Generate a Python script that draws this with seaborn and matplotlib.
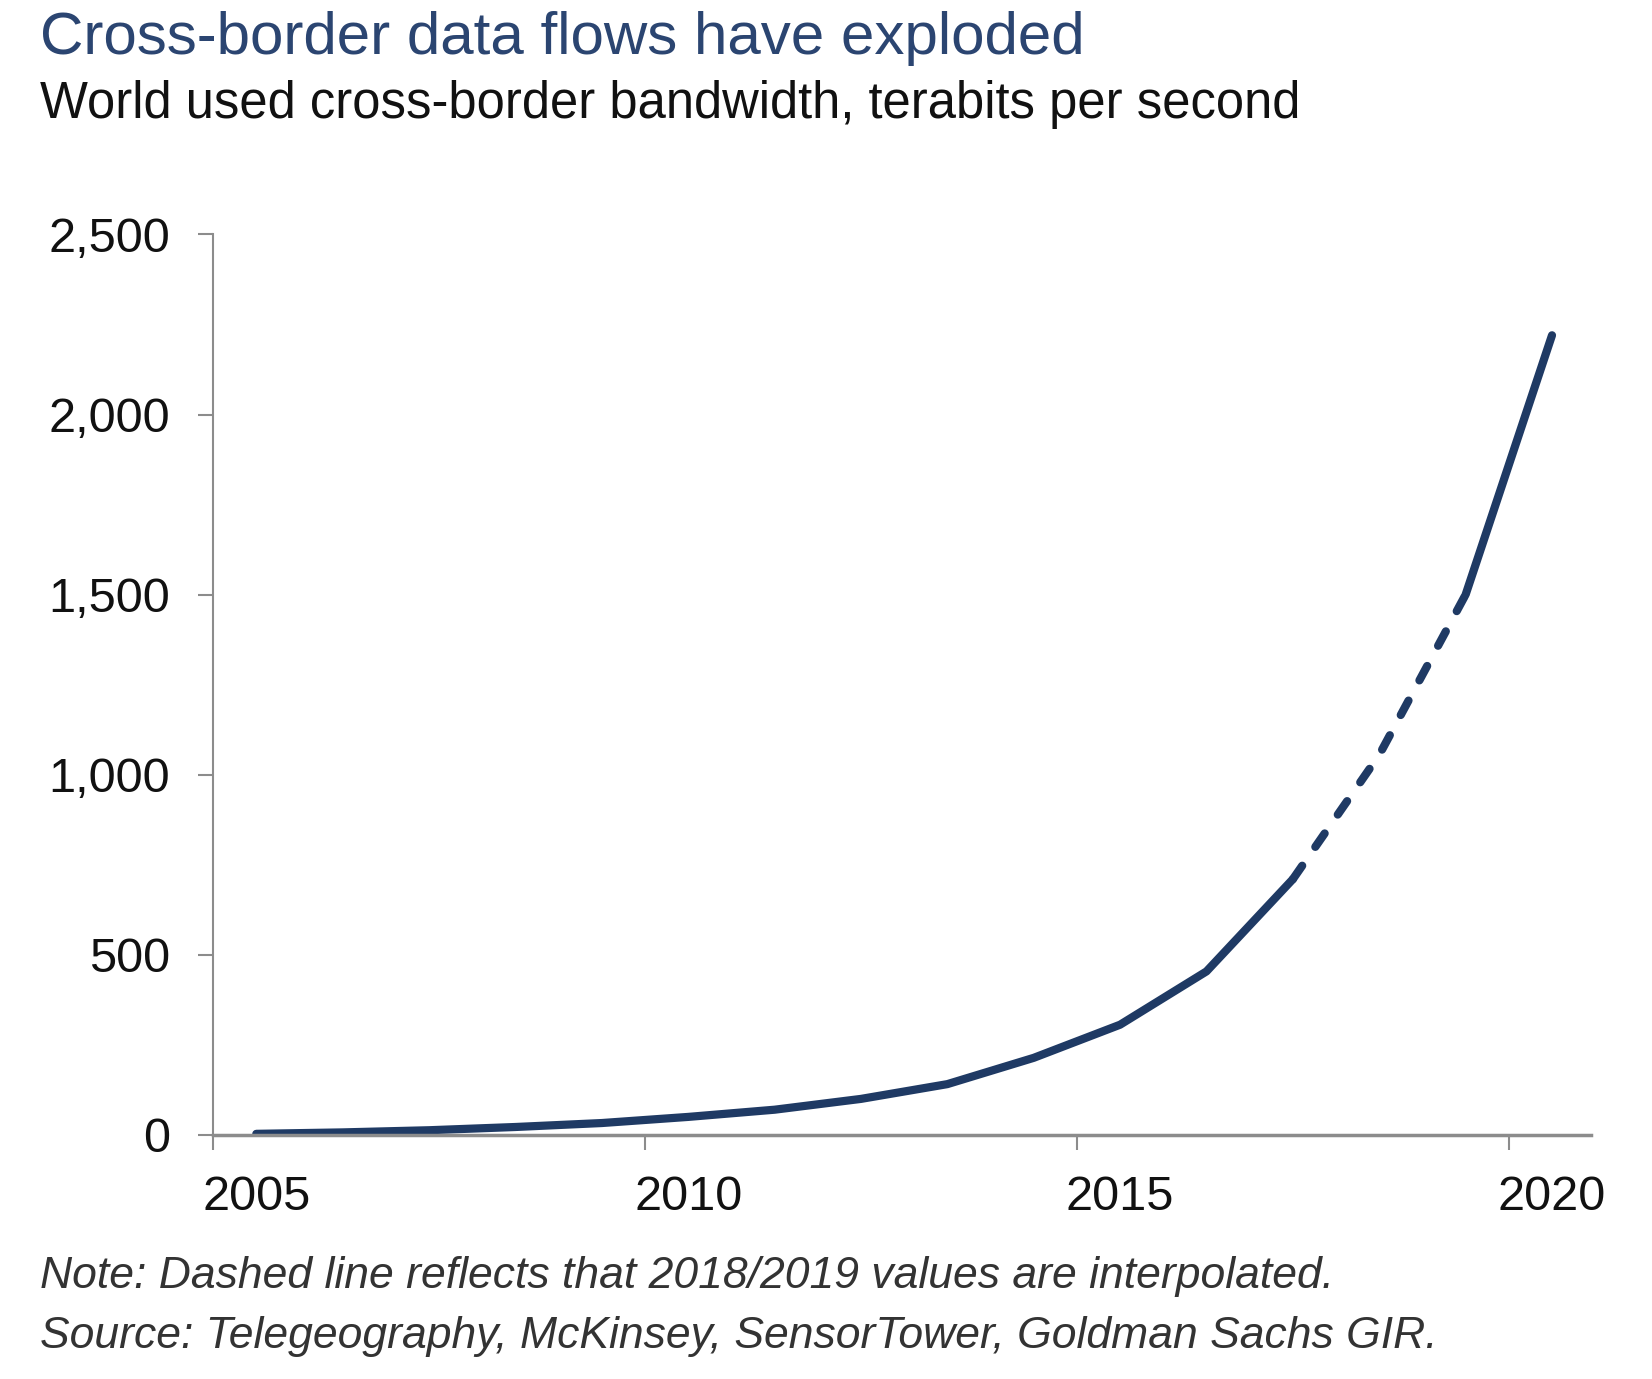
import numpy as np
import pandas as pd
import seaborn as sns
import matplotlib.pyplot as plt
from matplotlib.ticker import FuncFormatter

# ---------------------------------------------------------
# Data
# ---------------------------------------------------------
years = list(range(2005, 2021))
bandwidth = [3, 7, 13, 22, 33, 50, 70, 100, 141, 214, 306, 454, 710, 1055, 1500, 2220]
interpolated_years = [2018, 2019]   # dashed part of the line
year_labels = [2005, 2010, 2015, 2020]

df = pd.DataFrame({"year": years, "tbps": bandwidth})
df["x"] = df["year"] + 0.5           # points sit mid-year

# ---------------------------------------------------------
# Style
# ---------------------------------------------------------
sns.set_style("ticks")
plt.rcParams["font.family"] = ["Liberation Sans", "DejaVu Sans"]

navy = "#1f3a64"
grey = "#8c8c8c"

fig = plt.figure(figsize=(16.52, 13.79), dpi=100)
ax = fig.add_axes([0.129, 0.177, 0.834, 0.653])

# solid before / after the interpolated years, dashed in between
first_interp = df["year"].isin(interpolated_years).idxmax()
solid_a = df.loc[:first_interp - 1]
dashed = df.loc[first_interp - 1:first_interp + 1]
solid_b = df.loc[first_interp + 1:]

for part in (solid_a, solid_b):
    sns.lineplot(data=part, x="x", y="tbps", ax=ax, color=navy, lw=5.9,
                 solid_capstyle="round", solid_joinstyle="round")
sns.lineplot(data=dashed, x="x", y="tbps", ax=ax, color=navy, lw=5.9,
             linestyle=(0, (2.0, 2.8)), dash_capstyle="round")

# ---------------------------------------------------------
# Axes
# ---------------------------------------------------------
ax.set_xlim(2005, 2020.95)
ax.set_ylim(0, 2500)
# ticks on year boundaries, labels centred on the year
ax.set_xticks(year_labels)
ax.set_xticklabels([])
ax.set_xticks([y + 0.5 for y in year_labels], minor=True)
ax.set_xticklabels([str(y) for y in year_labels], minor=True)
ax.set_yticks(range(0, 2501, 500))
ax.yaxis.set_major_formatter(FuncFormatter(lambda v, p: f"{int(v):,}"))
ax.set_xlabel("")
ax.set_ylabel("")

for side in ("top", "right"):
    ax.spines[side].set_visible(False)
ax.spines["left"].set_color(grey)
ax.spines["left"].set_linewidth(1.5)
ax.spines["bottom"].set_color(grey)
ax.spines["bottom"].set_linewidth(2.5)

ax.tick_params(axis="y", length=11, width=1.5, color=grey, labelsize=35, pad=20,
               labelcolor="#111111")
ax.tick_params(axis="x", which="major", length=11, width=1.5, color=grey)
ax.tick_params(axis="x", which="minor", length=0, labelsize=35, pad=29,
               labelcolor="#111111")

# ---------------------------------------------------------
# Titles and notes
# ---------------------------------------------------------
fig.text(0.024, 0.972, "Cross-border data flows have exploded", fontsize=43.3,
         color="#2b4571", va="center", ha="left")
fig.text(0.024, 0.924, "World used cross-border bandwidth, terabits per second",
         fontsize=36.5, color="#111111", va="center", ha="left")
fig.text(0.024, 0.074, "Note: Dashed line reflects that 2018/2019 values are interpolated.",
         fontsize=32, style="italic", color="#333333", va="center", ha="left")
fig.text(0.024, 0.031, "Source: Telegeography, McKinsey, SensorTower, Goldman Sachs GIR.",
         fontsize=32, style="italic", color="#333333", va="center", ha="left")

plt.savefig("out.png", dpi=100)
